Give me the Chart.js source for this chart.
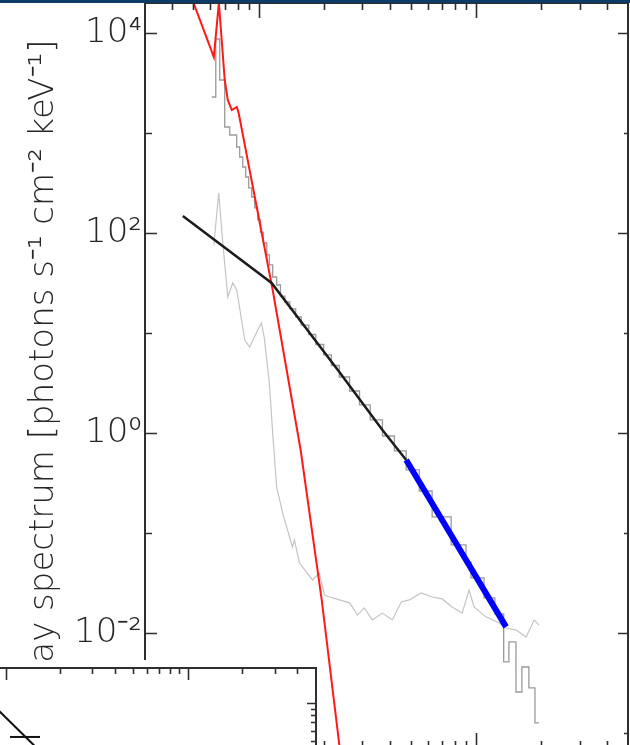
<!DOCTYPE html>
<html><head><meta charset="utf-8">
<script src="https://cdn.jsdelivr.net/npm/chart.js@4.4.1/dist/chart.umd.min.js"></script>
<style>
html,body{margin:0;padding:0;background:#fff;overflow:hidden;width:630px;height:745px}
#main{position:absolute;left:0;top:0}
#inset{position:absolute;left:-12px;top:660px}
#bar{position:absolute;left:0;top:0;width:630px;height:3px;background:#0e3b66}
</style></head><body>
<canvas id="main" width="630" height="750"></canvas>
<canvas id="inset" width="330" height="100"></canvas>
<div id="bar"></div>
<script>
// ---------- data (energy in keV, flux in photons s^-1 cm^-2 keV^-1) ----------
const thermalE  = [4.58, 6.22, 6.56, 6.76, 6.98, 7.21, 7.52, 7.93, 8.09, 11.6, 15.6, 19.5, 23.5, 24.8];
const thermalF  = [33900, 5754, 20000, 8511, 3388, 2138, 1698, 1820, 1585, 26.9, 0.676, 0.0214, 7.6e-4, 3.0e-4];

const nonthermalE = [4.48, 11.47, 23.5, 37.1, 47.7];
const nonthermalF = [148, 31.6, 4.07, 1.07, 0.537];

const fitRangeE = [47.7, 80.9, 137.4];
const fitRangeF = [0.537, 0.079, 0.0115];

// observed count spectrum (step histogram: left bin edge, level)
const obsE = [6.09, 6.35, 6.62, 6.98, 7.36, 7.92, 8.18, 8.45, 8.72, 9.0, 9.29, 9.59, 9.9, 10.2, 10.5, 10.9, 11.2, 11.6, 12.1, 12.6,
              13.2, 13.9, 14.8, 15.7, 17.0, 18.3, 19.9, 21.6, 23.5, 26.2, 29.1, 32.6, 37.1, 42.1, 47.7, 54.8, 62.8, 76.8, 89.9, 94.8,
              108.8, 122, 134, 141.6, 152.6, 162.5, 175, 186.6, 194.5];
const obsF = [2291, 8710, 3388, 1148, 955, 724, 575, 457, 363, 282, 229, 178, 135, 102, 79.4, 60.3, 47.9, 36.3, 30.2, 23.4,
              20.4, 17.4, 14.5, 12.0, 9.66, 7.67, 6.03, 4.73, 3.63, 2.63, 1.91, 1.35, 0.933, 0.661, 0.427, 0.263, 0.145, 0.0759, 0.0513, 0.0355,
              0.0224, 0.0155, 0.00513, 0.00813, 0.00257, 0.00457, 0.00282, 0.00126, 0.00126];

// background spectrum
const bgE = [6.22, 6.55, 6.84, 7.21, 7.6, 7.93, 8.63, 9.09, 9.9, 10.3, 10.6, 11.2, 11.6, 12.1, 12.9, 14.3, 14.6, 15.4, 17.7, 19.0,
             20.1, 21.2, 23.5, 26.2, 28.5, 30.6, 33.3, 37.1, 41.2, 45.3, 49.3, 55.9, 62.8, 69.8, 77.6, 86.3, 92.9, 97.9, 111, 128,
             137, 153, 170, 185, 195];
const bgF = [75.9, 251, 79.4, 22.9, 31.6, 26.9, 8.51, 7.24, 10.7, 12.6, 9.12, 3.16, 1.0, 0.288, 0.158, 0.0724, 0.0851, 0.0501, 0.0339, 0.0398,
             0.024, 0.0229, 0.0214, 0.02, 0.0151, 0.0178, 0.0135, 0.0158, 0.0135, 0.0204, 0.0214, 0.0251, 0.0229, 0.0219, 0.0182, 0.0158, 0.0269, 0.0182, 0.0145, 0.0126,
             0.0112, 0.0107, 0.00912, 0.0135, 0.012];

// axes
const xRange = [3, 500];
const yRange = [7.24e-4, 19950];
const xMajorTicks = [10, 100];
const xMinorTicks = [4, 5, 6, 7, 8, 9, 20, 30, 40, 50, 60, 70, 80, 90, 200, 300, 400];
const yTickValues = [1e-3, 1e-2, 1e-1, 1, 10, 100, 1e3, 1e4];
const yLabelExps  = [-2, 0, 2, 4];
const yLabelTexts = ['10⁻²', '10⁰', '10²', '10⁴'];
const yTitle = 'X-ray spectrum [photons s⁻¹ cm⁻² keV⁻¹]';

// lower-left panel
const insetLineX = [0.8, 1.754];
const insetLineY = [1.057, 0.343];
const insetBarX = [1.057, 1.545];
const insetBarY = [0.535, 0.535];
const insetXRange = [0.8, 50.7];
const insetYRange = [0.35, 1.905];
const insetXMajor = [1, 10];
const insetXMinor = [2, 3, 4, 5, 6, 7, 8, 9, 20, 30, 40];
const insetYMajor = [1];
const insetYMinor = [0.4, 0.5, 0.6, 0.7, 0.8, 0.9];

// ---------- helpers ----------
const zip = (xs, ys) => xs.map((v, i) => ({x: v, y: ys[i]}));
const AX = '#2e2e2e';
const TXT = '#262626';
const FONT = "'DejaVu Sans', 'Liberation Sans', sans-serif";

const framePlugin = {
  id: 'frame',
  afterDraw(chart, args, o) {
    const {ctx, chartArea: a} = chart;
    const x = chart.scales.x, y = chart.scales.y;
    ctx.save();
    ctx.strokeStyle = AX;
    ctx.lineWidth = o.tickWidth;
    ctx.beginPath();
    const tx = (vals, top, bottom) => vals.forEach(v => {
      const p = Math.round(x.getPixelForValue(v)) + 0.5;
      if (top) { ctx.moveTo(p, a.top); ctx.lineTo(p, a.top + top); }
      if (bottom) { ctx.moveTo(p, a.bottom); ctx.lineTo(p, a.bottom - bottom); }
    });
    const ty = (vals, left, right) => vals.forEach(v => {
      const p = Math.round(y.getPixelForValue(v)) + 0.5;
      if (left) { ctx.moveTo(a.left, p); ctx.lineTo(a.left + left, p); }
      if (right) { ctx.moveTo(a.right, p); ctx.lineTo(a.right - right, p); }
    });
    tx(o.xMajor, o.topMajor, o.bottomMajor);
    tx(o.xMinor, o.topMinor, o.bottomMinor);
    ty(o.yMajor, o.leftMajor, o.rightMajor);
    ty(o.yMinor, o.leftMinor, o.rightMinor);
    ctx.stroke();
    ctx.lineWidth = o.spineWidth;
    ctx.strokeRect(a.left, a.top, a.right - a.left, a.bottom - a.top);
    ctx.restore();
  }
};

const yMajorVals = yTickValues.filter(v => yLabelExps.includes(Math.round(Math.log10(v))));
const yMinorVals = yTickValues.filter(v => !yLabelExps.includes(Math.round(Math.log10(v))));

new Chart(document.getElementById('main'), {
  type: 'line',
  data: {
    datasets: [
      {label: 'fit range', data: zip(fitRangeE, fitRangeF), borderColor: '#0000ff', borderWidth: 6, order: 1},
      {label: 'non-thermal', data: zip(nonthermalE, nonthermalF), borderColor: '#1c1c1c', borderWidth: 2.5, order: 2},
      {label: 'thermal', data: zip(thermalE, thermalF), borderColor: '#ff1a1a', borderWidth: 2, order: 3},
      {label: 'observed', data: zip(obsE, obsF), borderColor: '#9a9a9a', borderWidth: 1.3, stepped: true, order: 4},
      {label: 'background', data: zip(bgE, bgF), borderColor: '#c4c4c4', borderWidth: 1.2, order: 5}
    ]
  },
  options: {
    responsive: false, animation: false, devicePixelRatio: 1,
    layout: {padding: {top: 3, right: 2, bottom: 3, left: 0}},
    elements: {point: {radius: 0}, line: {tension: 0, fill: false}},
    plugins: {
      legend: {display: false}, tooltip: {enabled: false},
      frame: {xMajor: xMajorTicks, xMinor: xMinorTicks, yMajor: yMajorVals, yMinor: yMinorVals,
              topMajor: 15, topMinor: 7, bottomMajor: 14, bottomMinor: 6,
              leftMajor: 12, leftMinor: 7, rightMajor: 10, rightMinor: 4,
              tickWidth: 1.6, spineWidth: 2}
    },
    scales: {
      x: {type: 'logarithmic', min: xRange[0], max: xRange[1], display: false},
      y: {
        type: 'logarithmic', position: 'left', min: yRange[0], max: yRange[1],
        afterFit: s => { s.width = 145; s.paddingTop = 0; s.paddingBottom = 0; },
        afterBuildTicks: s => { s.ticks = yTickValues.map(v => ({value: v})); },
        grid: {display: false}, border: {display: false},
        ticks: {
          autoSkip: false, padding: -5, color: TXT,
          font: {family: FONT, size: 34, weight: 300},
          callback: v => { const i = yLabelExps.indexOf(Math.round(Math.log10(v))); return i >= 0 ? yLabelTexts[i] : ''; }
        },
        title: {display: true, text: yTitle, color: TXT, font: {family: FONT, size: 34, weight: 300}, padding: {top: 24, bottom: 0}}
      }
    }
  },
  plugins: [framePlugin]
});

new Chart(document.getElementById('inset'), {
  type: 'line',
  data: {
    datasets: [
      {label: 'model', data: zip(insetLineX, insetLineY), borderColor: '#111', borderWidth: 2},
      {label: 'error', data: zip(insetBarX, insetBarY), borderColor: '#111', borderWidth: 2}
    ]
  },
  options: {
    responsive: false, animation: false, devicePixelRatio: 1,
    layout: {padding: {top: 8, right: 2, bottom: 0, left: 0}},
    elements: {point: {radius: 0}, line: {tension: 0}},
    plugins: {
      legend: {display: false}, tooltip: {enabled: false},
      frame: {xMajor: insetXMajor, xMinor: insetXMinor, yMajor: insetYMajor, yMinor: insetYMinor,
              topMajor: 12, topMinor: 6, bottomMajor: 0, bottomMinor: 0,
              leftMajor: 0, leftMinor: 0, rightMajor: 9, rightMinor: 5,
              tickWidth: 1.6, spineWidth: 2}
    },
    scales: {
      x: {type: 'logarithmic', min: insetXRange[0], max: insetXRange[1], display: false},
      y: {type: 'logarithmic', min: insetYRange[0], max: insetYRange[1], display: false}
    }
  },
  plugins: [framePlugin, {id: 'bg', beforeDraw(c) { c.ctx.save(); c.ctx.fillStyle = '#fff'; c.ctx.fillRect(0, 0, c.width, c.height); c.ctx.restore(); }}]
});
</script>
</body></html>
